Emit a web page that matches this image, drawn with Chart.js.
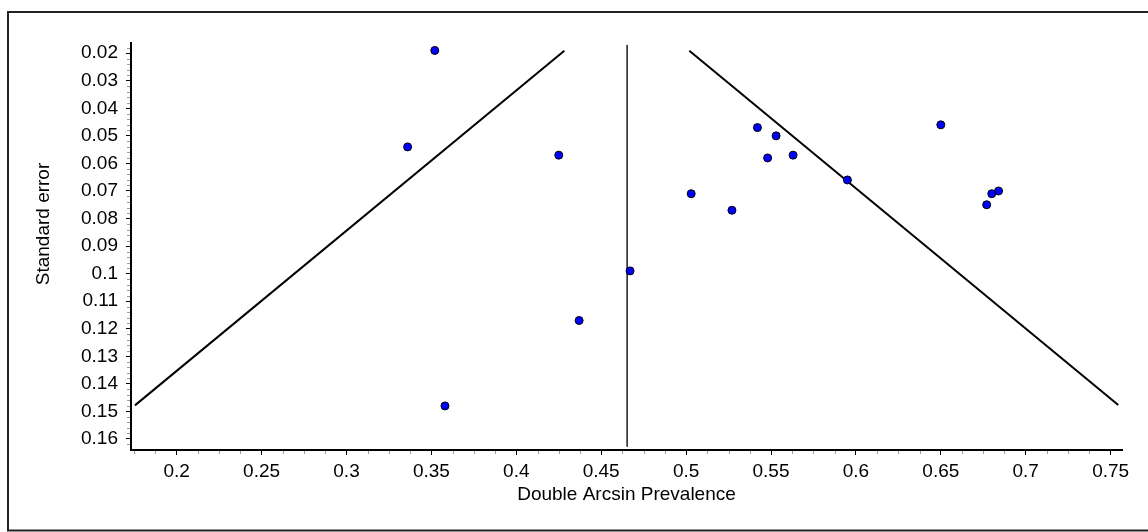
<!DOCTYPE html>
<html>
<head>
<meta charset="utf-8">
<title>Funnel plot</title>
<script src="https://cdn.jsdelivr.net/npm/chart.js@4.4.1/dist/chart.umd.min.js"></script>
<style>
    html, body { margin: 0; padding: 0; background: #fff; }
    #wrap { width: 1148px; height: 532px; }
</style>
</head>
<body>
<div id="wrap"><canvas id="funnelChart" width="1148" height="532"></canvas></div>
<script>
// Study estimates
var studyPrevalence = [0.352, 0.336, 0.425, 0.542, 0.553, 0.548, 0.503, 0.527, 0.467,
                       0.437, 0.358, 0.563, 0.595, 0.650, 0.684, 0.680, 0.677];
var studySE = [0.019, 0.054, 0.057, 0.047, 0.050, 0.058, 0.071, 0.077, 0.099,
               0.117, 0.148, 0.057, 0.066, 0.046, 0.070, 0.071, 0.075];

// Funnel limits and pooled estimate (end points)
var leftLimitX = [0.1754, 0.4283];
var leftLimitY = [0.1478, 0.0191];
var rightLimitX = [0.5019, 0.7545];
var rightLimitY = [0.0191, 0.1477];
var pooledX = [0.4653, 0.4653];
var pooledY = [0.0170, 0.1628];

// Axis ticks
var xTicks = [0.2, 0.25, 0.3, 0.35, 0.4, 0.45, 0.5, 0.55, 0.6, 0.65, 0.7, 0.75];
var xTickLabels = ['0.2', '0.25', '0.3', '0.35', '0.4', '0.45', '0.5', '0.55', '0.6', '0.65', '0.7', '0.75'];
var yTicks = [0.02, 0.03, 0.04, 0.05, 0.06, 0.07, 0.08, 0.09, 0.1, 0.11, 0.12, 0.13, 0.14, 0.15, 0.16];
var yTickLabels = ['0.02', '0.03', '0.04', '0.05', '0.06', '0.07', '0.08', '0.09', '0.1',
                   '0.11', '0.12', '0.13', '0.14', '0.15', '0.16'];

function toPoints(xs, ys) {
    return xs.map(function(x, i) { return { x: x, y: ys[i] }; });
}

var FONT = "'Liberation Sans', Arial, sans-serif";

// outer frame, minor ticks and y title
var framePlugin = {
    id: 'frame',
    beforeDraw: function(chart) {
        var ctx = chart.ctx;
        ctx.save();
        ctx.fillStyle = '#fff';
        ctx.fillRect(0, 0, chart.width, chart.height);
        ctx.strokeStyle = '#222';
        ctx.lineWidth = 2;
        ctx.strokeRect(8, 12, 1160, 518.5);
        ctx.restore();
    },
    afterDraw: function(chart) {
        var ctx = chart.ctx;
        var xs = chart.scales.x, ys = chart.scales.y;
        var area = chart.chartArea;
        ctx.save();
        ctx.strokeStyle = '#999';
        ctx.lineWidth = 1;
        var v, p;
        for (v = 0.175; v < xs.max; v += 0.0125) {
            if (Math.abs(v * 20 - Math.round(v * 20)) < 1e-6) continue;
            p = Math.round(xs.getPixelForValue(v)) + 0.5;
            ctx.beginPath();
            ctx.moveTo(p, area.bottom + 1);
            ctx.lineTo(p, area.bottom + 4);
            ctx.stroke();
        }
        for (v = 0.018; v < ys.max; v += 0.002) {
            if (Math.abs(v * 100 - Math.round(v * 100)) < 1e-6) continue;
            p = Math.round(ys.getPixelForValue(v)) + 0.5;
            ctx.beginPath();
            ctx.moveTo(area.left - 4, p);
            ctx.lineTo(area.left - 1, p);
            ctx.stroke();
        }
        // y axis title
        ctx.fillStyle = '#000';
        ctx.font = '19px ' + FONT;
        ctx.textAlign = 'center';
        ctx.textBaseline = 'middle';
        ctx.translate(44, 224);
        ctx.rotate(-Math.PI / 2);
        ctx.fillText('Standard error', 0, 0);
        ctx.restore();
    }
};

var ctx = document.getElementById('funnelChart');
new Chart(ctx, {
    type: 'scatter',
    data: {
        datasets: [{
            label: 'Studies',
            data: toPoints(studyPrevalence, studySE),
            backgroundColor: '#0000ff',
            borderColor: '#000',
            borderWidth: 1,
            pointRadius: 4
        }, {
            label: 'Lower limit',
            data: toPoints(leftLimitX, leftLimitY),
            showLine: true,
            borderColor: '#000',
            borderWidth: 2,
            pointRadius: 0
        }, {
            label: 'Upper limit',
            data: toPoints(rightLimitX, rightLimitY),
            showLine: true,
            borderColor: '#000',
            borderWidth: 2,
            pointRadius: 0
        }, {
            label: 'Pooled',
            data: toPoints(pooledX, pooledY),
            showLine: true,
            borderColor: '#333',
            borderWidth: 1,
            pointRadius: 0
        }]
    },
    options: {
        responsive: false,
        animation: false,
        devicePixelRatio: 1,
        layout: { padding: { left: 8, top: 43, right: 26, bottom: 0 } },
        plugins: {
            legend: { display: false },
            tooltip: { enabled: false }
        },
        scales: {
            x: {
                type: 'linear',
                min: 0.1731,
                max: 0.7567,
                afterBuildTicks: function(scale) {
                    scale.ticks = xTicks.map(function(v) { return { value: v }; });
                },
                afterFit: function(scale) { scale.height = 82; },
                ticks: {
                    padding: 5,
                    color: '#000',
                    font: { family: FONT, size: 19 },
                    maxRotation: 0,
                    callback: function(value, index) { return xTickLabels[index]; }
                },
                grid: { drawOnChartArea: false, tickLength: 5, tickColor: '#000' },
                border: { color: '#000', width: 2 },
                title: {
                    display: true,
                    text: 'Double Arcsin Prevalence',
                    color: '#000',
                    font: { family: FONT, size: 19 },
                    padding: { top: 0, bottom: 26 }
                }
            },
            y: {
                type: 'linear',
                reverse: true,
                min: 0.0163,
                max: 0.164,
                afterBuildTicks: function(scale) {
                    scale.ticks = yTicks.map(function(v) { return { value: v }; });
                },
                afterFit: function(scale) { scale.width = 123; },
                ticks: {
                    padding: 8,
                    color: '#000',
                    font: { family: FONT, size: 19 },
                    callback: function(value, index) { return yTickLabels[index]; }
                },
                grid: { drawOnChartArea: false, tickLength: 5, tickColor: '#000' },
                border: { color: '#000', width: 2 }
            }
        }
    },
    plugins: [framePlugin]
});
</script>
</body>
</html>
